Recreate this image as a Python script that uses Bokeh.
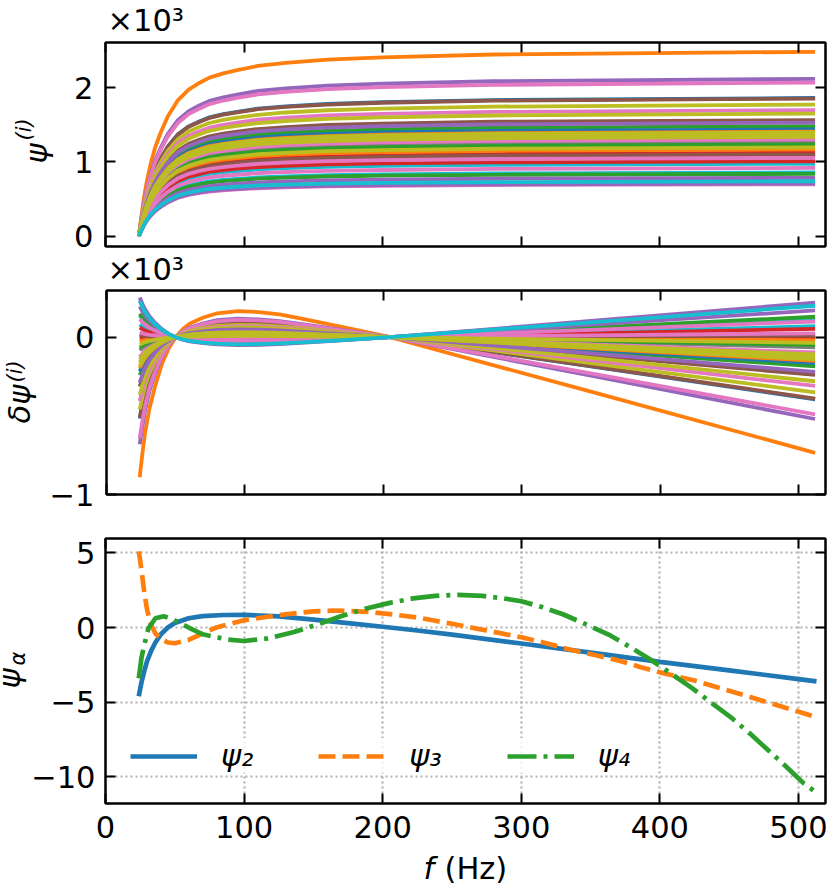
from bokeh.embed import file_html
from bokeh.layouts import column, row
from bokeh.models import FixedTicker, Grid, Label, Legend, LegendItem, LinearAxis, Range1d
from bokeh.plotting import figure
from bokeh.resources import INLINE
import math

FONT = "DejaVu Sans"
TICK_PX = "30.5px"
SUP_PX = "21px"
BLUE, ORANGE, GREEN, RED, PURPLE = "#1f77b4", "#ff7f0e", "#2ca02c", "#d62728", "#9467bd"
BROWN, PINK, GRAY, OLIVE, CYAN = "#8c564b", "#e377c2", "#7f7f7f", "#bcbd22", "#17becf"

x_ticks = [0, 100, 200, 300, 400, 500]
p1_y_ticks = [0, 1, 2]
p2_y_ticks = [-1, 0]
p3_y_ticks = [-10, -5, 0, 5]

# Top panel (units of 10^3)
f_psi = [24, 26, 28, 30, 33, 36, 40, 45, 52, 60, 68, 75, 85, 95, 110, 130, 160, 200, 280, 512]
psi_01 = [0, .214, .410, .568, .754, .903, 1.052, 1.210, 1.369, 1.480, 1.549, 1.601, 1.644, 1.676, 1.719, 1.750, 1.782, 1.806, 1.834, 1.862]
psi_02 = [0, .286, .547, .758, 1.006, 1.205, 1.404, 1.615, 1.826, 1.976, 2.068, 2.137, 2.194, 2.237, 2.294, 2.336, 2.378, 2.410, 2.448, 2.485]
psi_03 = [0, .171, .326, .453, .601, .720, .838, .965, 1.091, 1.180, 1.235, 1.276, 1.310, 1.336, 1.370, 1.395, 1.420, 1.439, 1.462, 1.484]
psi_04 = [0, .129, .247, .343, .455, .545, .635, .731, .826, .894, .935, .967, .992, 1.012, 1.037, 1.057, 1.076, 1.090, 1.107, 1.124]
psi_05 = [0, .244, .466, .647, .859, 1.028, 1.198, 1.378, 1.558, 1.685, 1.764, 1.823, 1.872, 1.908, 1.957, 1.993, 2.029, 2.056, 2.088, 2.12]
psi_06 = [0, .213, .408, .565, .751, .899, 1.048, 1.205, 1.363, 1.474, 1.543, 1.594, 1.637, 1.669, 1.711, 1.743, 1.774, 1.798, 1.826, 1.854]
psi_07 = [0, .238, .455, .631, .838, 1.004, 1.170, 1.346, 1.521, 1.646, 1.722, 1.780, 1.828, 1.863, 1.911, 1.946, 1.981, 2.008, 2.039, 2.07]
psi_08 = [0, .146, .279, .387, .514, .615, .716, .824, .932, 1.008, 1.055, 1.090, 1.120, 1.141, 1.170, 1.192, 1.213, 1.230, 1.249, 1.268]
psi_09 = [0, .204, .390, .541, .718, .860, 1.002, 1.152, 1.303, 1.410, 1.475, 1.525, 1.566, 1.596, 1.636, 1.667, 1.697, 1.720, 1.746, 1.773]
psi_10 = [0, .112, .215, .298, .395, .473, .551, .634, .717, .776, .812, .839, .862, .878, .901, .917, .934, .947, .961, .976]
psi_11 = [0, .166, .317, .439, .583, .698, .814, .936, 1.058, 1.145, 1.198, 1.238, 1.272, 1.296, 1.329, 1.354, 1.378, 1.397, 1.418, 1.44]
psi_12 = [0, .162, .310, .430, .571, .684, .797, .917, 1.036, 1.121, 1.173, 1.213, 1.245, 1.269, 1.301, 1.325, 1.349, 1.368, 1.389, 1.41]
psi_13 = [0, .142, .272, .377, .501, .600, .699, .804, .909, .983, 1.029, 1.064, 1.092, 1.113, 1.142, 1.163, 1.184, 1.200, 1.218, 1.237]
psi_14 = [0, .116, .222, .308, .409, .490, .571, .657, .742, .803, .840, .869, .892, .909, .932, .949, .967, .980, .995, 1.01]
psi_15 = [0, .081, .154, .214, .284, .340, .396, .455, .515, .557, .582, .602, .618, .630, .646, .658, .670, .679, .690, .70]
psi_16 = [0, .180, .344, .477, .634, .759, .884, 1.017, 1.150, 1.244, 1.302, 1.346, 1.382, 1.409, 1.444, 1.471, 1.498, 1.518, 1.542, 1.565]
psi_17 = [0, .082, .156, .217, .288, .344, .401, .462, .522, .564, .591, .611, .627, .639, .655, .667, .679, .689, .699, .71]
psi_18 = [0, .196, .374, .519, .689, .825, .961, 1.105, 1.250, 1.352, 1.414, 1.462, 1.501, 1.530, 1.569, 1.598, 1.627, 1.649, 1.675, 1.70]
psi_19 = [0, .190, .363, .504, .669, .801, .933, 1.073, 1.213, 1.313, 1.374, 1.420, 1.458, 1.486, 1.524, 1.552, 1.580, 1.601, 1.626, 1.651]
psi_20 = [0, .099, .189, .262, .347, .416, .485, .558, .631, .682, .714, .738, .758, .772, .792, .807, .821, .832, .845, .858]
psi_21 = [0, .134, .257, .357, .473, .567, .660, .760, .859, .929, .973, 1.005, 1.032, 1.052, 1.079, 1.099, 1.119, 1.134, 1.151, 1.169]
psi_22 = [0, .097, .185, .256, .340, .407, .475, .546, .617, .668, .699, .722, .742, .756, .775, .790, .804, .815, .827, .84]
psi_23 = [0, .125, .240, .332, .441, .529, .616, .709, .801, .867, .907, .937, .962, .981, 1.006, 1.025, 1.043, 1.057, 1.074, 1.09]
psi_24 = [0, .176, .337, .467, .620, .742, .864, .995, 1.125, 1.216, 1.273, 1.316, 1.351, 1.377, 1.412, 1.438, 1.464, 1.484, 1.507, 1.53]
psi_25 = [0, .127, .242, .336, .446, .534, .622, .715, .809, .875, .915, .946, .971, .990, 1.015, 1.034, 1.053, 1.067, 1.084, 1.10]
psi_26 = [0, .150, .287, .398, .528, .632, .737, .848, .958, 1.037, 1.085, 1.121, 1.151, 1.174, 1.204, 1.226, 1.248, 1.265, 1.284, 1.304]
psi_27 = [0, .161, .308, .427, .567, .679, .791, .910, 1.029, 1.113, 1.165, 1.204, 1.236, 1.260, 1.292, 1.316, 1.340, 1.358, 1.379, 1.40]
psi_28 = [0, .090, .173, .240, .318, .381, .444, .511, .578, .625, .654, .676, .694, .707, .725, .739, .752, .762, .774, .786]
psi_29 = [0, .121, .232, .322, .428, .512, .597, .686, .776, .840, .879, .908, .932, .950, .975, .993, 1.011, 1.024, 1.040, 1.056]
psi_30 = [0, .158, .301, .418, .555, .664, .774, .891, 1.007, 1.089, 1.140, 1.178, 1.210, 1.233, 1.265, 1.288, 1.311, 1.329, 1.349, 1.37]
psi_31 = [0, .106, .202, .281, .373, .446, .520, .598, .676, .731, .765, .791, .812, .828, .849, .865, .880, .892, .906, .92]
psi_32 = [0, .154, .295, .409, .543, .650, .757, .871, .985, 1.065, 1.115, 1.152, 1.183, 1.206, 1.237, 1.260, 1.282, 1.300, 1.320, 1.34]
psi_33 = [0, .138, .263, .365, .484, .580, .676, .777, .879, .951, .995, 1.029, 1.056, 1.076, 1.104, 1.124, 1.145, 1.160, 1.178, 1.196]
psi_34 = [0, .085, .163, .226, .300, .359, .418, .481, .544, .588, .616, .636, .653, .666, .683, .696, .708, .718, .729, .74]

# Middle panel (units of 10^3)
f_dpsi = [24, 26, 28, 31, 35, 40, 45, 50, 55, 60, 70, 80, 95, 110, 125, 140, 170, 205, 350, 512]
dpsi_01 = [-.517, -.427, -.348, -.261, -.178, -.095, -.038, 0, .027, .046, .067, .082, .089, .086, .078, .064, .036, 0, -.186, -.395]
dpsi_02 = [-.89, -.735, -.60, -.455, -.315, -.17, -.07, 0, .05, .085, .125, .152, .166, .16, .145, .12, .066, 0, -.346, -.735]
dpsi_03 = [-.242, -.200, -.163, -.122, -.083, -.044, -.018, 0, .013, .021, .031, .038, .042, .040, .036, .030, .017, 0, -.087, -.185]
dpsi_04 = [-.009, -.008, -.006, -.005, -.003, -.002, -.001, 0, 0, .001, .001, .001, .002, .002, .001, .001, .001, 0, -.003, -.007]
dpsi_05 = [-.681, -.562, -.458, -.343, -.234, -.125, -.049, 0, .035, .060, .088, .108, .118, .113, .102, .085, .047, 0, -.244, -.52]
dpsi_06 = [-.511, -.421, -.343, -.257, -.176, -.094, -.037, 0, .027, .045, .066, .081, .088, .085, .077, .064, .035, 0, -.183, -.39]
dpsi_07 = [-.642, -.529, -.431, -.323, -.221, -.118, -.047, 0, .033, .057, .083, .101, .111, .107, .097, .080, .044, 0, -.230, -.49]
dpsi_08 = [-.084, -.069, -.056, -.042, -.029, -.015, -.006, 0, .004, .007, .011, .013, .014, .014, .013, .010, .006, 0, -.030, -.064]
dpsi_09 = [-.459, -.378, -.308, -.231, -.158, -.084, -.033, 0, .024, .041, .060, .072, .079, .076, .069, .057, .032, 0, -.165, -.35]
dpsi_10 = [.081, .067, .056, .043, .029, .016, .007, 0, -.005, -.008, -.012, -.014, -.016, -.015, -.014, -.011, -.006, 0, .033, .07]
dpsi_11 = [-.216, -.178, -.145, -.109, -.074, -.040, -.016, 0, .011, .019, .028, .034, .037, .036, .033, .027, .015, 0, -.078, -.165]
dpsi_12 = [-.197, -.162, -.132, -.099, -.068, -.036, -.014, 0, .010, .017, .026, .031, .034, .033, .030, .024, .014, 0, -.071, -.15]
dpsi_13 = [-.066, -.054, -.044, -.033, -.023, -.012, -.005, 0, .003, .006, .009, .010, .011, .011, .010, .008, .005, 0, -.024, -.05]
dpsi_14 = [.061, .051, .042, .032, .022, .012, .005, 0, -.004, -.006, -.009, -.011, -.012, -.012, -.010, -.009, -.005, 0, .025, .053]
dpsi_15 = [.236, .197, .164, .125, .086, .047, .019, 0, -.014, -.024, -.035, -.042, -.046, -.045, -.040, -.033, -.018, 0, .096, .205]
dpsi_16 = [-.314, -.259, -.211, -.158, -.108, -.058, -.023, 0, .016, .028, .041, .050, .054, .052, .047, .039, .022, 0, -.113, -.24]
dpsi_17 = [.253, .211, .176, .134, .092, .051, .021, 0, -.015, -.026, -.037, -.046, -.050, -.048, -.043, -.036, -.020, 0, .103, .22]
dpsi_18 = [-.406, -.335, -.273, -.205, -.140, -.074, -.029, 0, .021, .036, .053, .064, .070, .068, .061, .051, .028, 0, -.146, -.31]
dpsi_19 = [-.367, -.302, -.246, -.185, -.126, -.067, -.027, 0, .019, .032, .048, .058, .063, .061, .055, .046, .025, 0, -.132, -.28]
dpsi_20 = [.138, .115, .096, .073, .050, .028, .011, 0, -.008, -.014, -.020, -.025, -.027, -.026, -.024, -.020, -.011, 0, .056, .12]
dpsi_21 = [-.026, -.022, -.018, -.013, -.009, -.005, -.002, 0, .001, .002, .003, .004, .005, .004, .004, .003, .002, 0, -.009, -.02]
dpsi_22 = [.150, .125, .104, .079, .055, .030, .012, 0, -.009, -.015, -.022, -.027, -.029, -.028, -.026, -.021, -.012, 0, .061, .13]
dpsi_23 = [.017, .014, .012, .009, .006, .003, .001, 0, -.001, -.002, -.003, -.003, -.003, -.003, -.003, -.002, -.001, 0, .007, .015]
dpsi_24 = [-.288, -.238, -.194, -.145, -.099, -.053, -.021, 0, .015, .026, .037, .046, .050, .048, .043, .036, .020, 0, -.103, -.22]
dpsi_25 = [.012, .010, .008, .006, .004, .002, .001, 0, -.001, -.001, -.002, -.002, -.002, -.002, -.002, -.002, -.001, 0, .005, .01]
dpsi_26 = [-.127, -.105, -.085, -.064, -.044, -.023, -.009, 0, .007, .011, .016, .020, .022, .021, .019, .016, .009, 0, -.046, -.097]
dpsi_27 = [-.183, -.151, -.123, -.092, -.063, -.034, -.013, 0, .010, .016, .024, .029, .032, .031, .028, .023, .013, 0, -.066, -.14]
dpsi_28 = [.196, .163, .136, .104, .071, .039, .016, 0, -.012, -.020, -.029, -.035, -.038, -.037, -.033, -.028, -.015, 0, .080, .17]
dpsi_29 = [.029, .024, .020, .015, .011, .006, .002, 0, -.002, -.003, -.004, -.005, -.006, -.005, -.005, -.004, -.002, 0, .012, .025]
dpsi_30 = [-.162, -.134, -.109, -.082, -.056, -.030, -.012, 0, .008, .014, .021, .026, .028, .027, .024, .020, .011, 0, -.058, -.124]
dpsi_31 = [.115, .096, .080, .061, .042, .023, .010, 0, -.007, -.012, -.017, -.021, -.023, -.022, -.020, -.016, -.009, 0, .047, .10]
dpsi_32 = [-.144, -.119, -.097, -.073, -.050, -.026, -.010, 0, .007, .013, .019, .023, .025, .024, .022, .018, .010, 0, -.052, -.11]
dpsi_33 = [-.047, -.039, -.032, -.024, -.016, -.009, -.003, 0, .002, .004, .006, .007, .008, .008, .007, .006, .003, 0, -.017, -.036]
dpsi_34 = [.230, .192, .160, .122, .084, .046, .019, 0, -.014, -.023, -.034, -.041, -.045, -.044, -.039, -.033, -.018, 0, .094, .20]

curve_colors = [BLUE, ORANGE, GREEN, RED, PURPLE, BROWN, PINK, GRAY, OLIVE, CYAN,
                BLUE, ORANGE, GREEN, RED, PINK, BROWN, PURPLE, PINK, OLIVE, CYAN,
                ORANGE, GREEN, RED, PURPLE, BROWN, PINK, OLIVE, PURPLE, PINK, OLIVE,
                PINK, OLIVE, OLIVE, CYAN]

# Bottom panel
f_psi2 = [24, 26, 28, 30, 33, 36, 40, 45, 50, 60, 70, 85, 100, 125, 150, 175, 200, 225, 250, 300, 350, 400, 450, 500, 513]
psi2 = [-4.6, -3.65, -2.9, -2.25, -1.55, -1.0, -.45, 0.0, .3, .62, .76, .84, .85, .75, .53, .3, .05, -.2, -.48, -1.07, -1.68, -2.3, -2.87, -3.45, -3.6]
f_psi3 = [24, 25, 26, 28, 30, 33, 36, 40, 45, 50, 60, 70, 80, 100, 125, 150, 165, 190, 207, 225, 237, 250, 275, 300, 318, 337, 353, 370, 385, 400, 425, 445, 465, 490, 513]
psi3 = [5.1, 4.5, 3.8, 2.35, 1.2, .15, -.4, -.75, -1.0, -1.05, -.83, -.4, 0, .49, .83, 1.08, 1.14, 1.05, .88, .67, .47, .25, -.2, -.65, -1.05, -1.52, -1.84, -2.2, -2.62, -3.0, -3.55, -4.1, -4.65, -5.35, -6.0]
f_psi4 = [24, 26, 28, 31, 36, 42, 47, 52, 60, 70, 88, 100, 117, 136, 146, 156, 172, 189, 205, 222, 238, 254, 272, 285, 300, 315, 330, 346, 363, 378, 394, 408, 423, 437, 452, 465, 478, 491, 504, 513]
psi4 = [-3.4, -2.0, -1.15, -.05, .62, .76, .62, .38, 0, -.45, -.8, -.9, -.73, -.3, 0, .3, .82, 1.29, 1.65, 1.95, 2.12, 2.19, 2.12, 1.98, 1.76, 1.37, .89, .24, -.47, -1.28, -2.19, -3.08, -4.04, -5.03, -6.07, -7.1, -8.2, -9.3, -10.45, -11.05]

legend_labels = ["ψ₂", "ψ₃", "ψ₄"]
scale_label = "×10³"


def make_panel(width, height, left, top, bottom, y_range, y_ticks, y_labels, show_x_labels, y_standoff=12):
    p = figure(width=width, height=height, output_backend="svg", toolbar_location=None,
               x_range=Range1d(0, 519.5), y_range=Range1d(*y_range),
               min_border_left=left, min_border_right=7, min_border_top=top, min_border_bottom=bottom,
               x_axis_type=None, y_axis_type=None)
    p.outline_line_color = "black"
    p.outline_line_width = 2
    p.background_fill_color = "white"
    p.border_fill_color = None

    def style(axis, ticks, labelled, standoff, overrides=None):
        if labelled:
            axis.ticker = FixedTicker(ticks=ticks)
            axis.major_tick_in = 10
            axis.major_tick_out = 0
            axis.major_tick_line_width = 2
            axis.major_tick_line_color = "black"
            axis.minor_tick_line_color = None
        else:
            # unlabelled sides: ticks only, no label texts at all
            axis.ticker = FixedTicker(ticks=[], minor_ticks=ticks)
            axis.minor_tick_in = 10
            axis.minor_tick_out = 0
            axis.minor_tick_line_width = 2
            axis.minor_tick_line_color = "black"
            axis.major_tick_line_color = None
        axis.axis_line_width = 2
        axis.axis_line_color = "black"
        axis.major_label_standoff = standoff if labelled else 0
        axis.major_label_text_font = FONT
        axis.major_label_text_color = "black"
        axis.major_label_text_font_size = TICK_PX
        if overrides:
            axis.major_label_overrides = overrides

    for place, ticks, labelled, stand, ov in (("below", x_ticks, show_x_labels, 12, None),
                                              ("left", y_ticks, True, y_standoff, y_labels),
                                              ("above", x_ticks, False, 0, None),
                                              ("right", y_ticks, False, 0, None)):
        ax = LinearAxis()
        style(ax, ticks, labelled, stand, ov)
        p.add_layout(ax, place)
    return p


def text_strip(width, height):
    # a figure whose frame fills its canvas, to hold text beside a panel
    s = figure(width=width, height=height, output_backend="svg", toolbar_location=None,
               x_range=Range1d(0, 1), y_range=Range1d(0, 1), min_border=0,
               x_axis_type=None, y_axis_type=None)
    s.outline_line_color = None
    s.border_fill_color = None
    s.background_fill_color = None
    return s


def note(p, text, x, y, size=TICK_PX, style="normal", angle=0.0):
    # x from the strip's left edge, y upward from the bottom of its (row-aligned) frame
    p.add_layout(Label(x=x, y=y, x_units="screen", y_units="screen", text=text, angle=angle,
                       text_font=FONT, text_font_size=size, text_font_style=style,
                       text_align="left", text_baseline="alphabetic", text_color="black"))


UP = math.pi / 2

# ---- top
s1 = text_strip(832, 38)
note(s1, scale_label, 107, 18)
p1 = make_panel(772, 216, 45, 4, 8, (-.139, 2.61), p1_y_ticks, {0: "0", 1: "1", 2: "2"}, False)
psi_curves = [psi_01, psi_02, psi_03, psi_04, psi_05, psi_06, psi_07, psi_08, psi_09, psi_10, psi_11, psi_12,
              psi_13, psi_14, psi_15, psi_16, psi_17, psi_18, psi_19, psi_20, psi_21, psi_22, psi_23, psi_24,
              psi_25, psi_26, psi_27, psi_28, psi_29, psi_30, psi_31, psi_32, psi_33, psi_34]
for vals, col in zip(psi_curves, curve_colors):
    p1.line(f_psi, vals, line_color=col, line_width=3.8, line_join="round")
g1 = text_strip(60, 216)
note(g1, "ψ", 36, 83, style="italic", angle=UP)
note(g1, "(i)", 23, 106, size=SUP_PX, style="italic", angle=UP)

# ---- middle
s2 = text_strip(832, 32)
note(s2, scale_label, 107, 17)
p2 = make_panel(786, 226, 59, 4, 18, (-1.0, .297), p2_y_ticks, {-1: "−1", 0: "0"}, False)
dpsi_curves = [dpsi_01, dpsi_02, dpsi_03, dpsi_04, dpsi_05, dpsi_06, dpsi_07, dpsi_08, dpsi_09, dpsi_10, dpsi_11,
               dpsi_12, dpsi_13, dpsi_14, dpsi_15, dpsi_16, dpsi_17, dpsi_18, dpsi_19, dpsi_20, dpsi_21, dpsi_22,
               dpsi_23, dpsi_24, dpsi_25, dpsi_26, dpsi_27, dpsi_28, dpsi_29, dpsi_30, dpsi_31, dpsi_32, dpsi_33,
               dpsi_34]
for vals, col in zip(dpsi_curves, curve_colors):
    p2.line(f_dpsi, vals, line_color=col, line_width=3.8, line_join="round")
g2 = text_strip(46, 226)
note(g2, "δψ", 19, 71, style="italic", angle=UP)
note(g2, "(i)", 14, 112, size=SUP_PX, style="italic", angle=UP)

# ---- bottom
p3 = make_panel(805, 333, 78, 26, 42, (-11.78, 5.96), p3_y_ticks,
                {-10: "−10", -5: "−5", 0: "0", 5: "5"}, True, y_standoff=10)
for dim, ticks in ((0, x_ticks), (1, p3_y_ticks)):
    p3.add_layout(Grid(dimension=dim, ticker=FixedTicker(ticks=ticks), grid_line_color="#b0b0b0",
                       grid_line_width=2.2, grid_line_dash="2 3"), "center")
r2 = p3.line(f_psi2, psi2, line_color=BLUE, line_width=4.7)
r3 = p3.line(f_psi3, psi3, line_color=ORANGE, line_width=4.7, line_dash="17 7")
r4 = p3.line(f_psi4, psi4, line_color=GREEN, line_width=4.7, line_dash="29 7 4 7")
legend = Legend(items=[LegendItem(label=legend_labels[0], renderers=[r2]),
                       LegendItem(label=legend_labels[1], renderers=[r3]),
                       LegendItem(label=legend_labels[2], renderers=[r4])],
                orientation="horizontal", location=(25, 30), glyph_width=67, glyph_height=20,
                label_standoff=24, spacing=65, padding=11, margin=0,
                label_text_font=FONT, label_text_font_style="italic", label_text_font_size=TICK_PX,
                label_text_color="black", border_line_color=None,
                background_fill_color="white", background_fill_alpha=0.8)
p3.add_layout(legend, "center")
g3 = text_strip(27, 333)
note(g3, "ψ", 9, 115, style="italic", angle=UP)
note(g3, "α", 17, 138, size=SUP_PX, style="italic", angle=UP)

s4 = text_strip(832, 47)
note(s4, "f", 423, 24, style="italic")
note(s4, "(Hz)", 444, 24)

page = column(s1, row(g1, p1, spacing=0), s2, row(g2, p2, spacing=0), row(g3, p3, spacing=0), s4, spacing=0)
open("out.html", "w").write(file_html(page, INLINE))
